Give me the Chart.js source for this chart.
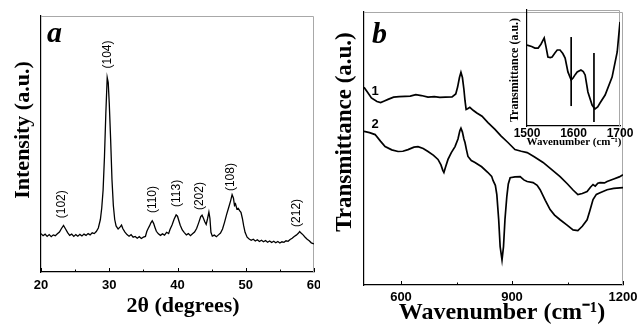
<!DOCTYPE html>
<html>
<head>
<meta charset="utf-8">
<script src="https://cdn.jsdelivr.net/npm/chart.js@4.4.1/dist/chart.umd.min.js"></script>
<style>
	body { margin: 0; background: #fff; }
	#wrap { position: relative; width: 639px; height: 325px; overflow: hidden; }
	canvas { position: absolute; }
</style>
</head>
<body>
<div id="wrap">
	<canvas id="xrd" width="320" height="325" style="left:0;top:0"></canvas>
	<canvas id="ftir" width="319" height="325" style="left:320px;top:0"></canvas>
	<canvas id="inset" width="139" height="155" style="left:500px;top:0"></canvas>
</div>
<script>
// panel a - XRD pattern
var xrd_angle = [20.0, 20.3, 20.6, 20.9, 21.2, 21.5, 21.8, 22.1, 22.4, 22.7, 23.0, 23.3, 23.6, 23.9, 24.2, 24.5, 24.8, 25.1, 25.4, 25.7,
	26.0, 26.3, 26.6, 26.9, 27.2, 27.5, 27.8, 28.1, 28.4, 28.7, 28.9, 29.1, 29.3, 29.5, 29.7, 29.85, 30.0, 30.2, 30.4, 30.6,
	30.8, 31.0, 31.3, 31.6, 31.8, 32.0, 32.3, 32.6, 32.9, 33.2, 33.5, 33.8, 34.1, 34.4, 34.7, 35.0, 35.3, 35.5, 35.7, 35.9,
	36.1, 36.3, 36.5, 36.7, 36.9, 37.2, 37.5, 37.8, 38.1, 38.4, 38.7, 38.9, 39.2, 39.5, 39.8, 40.0, 40.2, 40.4, 40.7, 41.0,
	41.3, 41.6, 41.9, 42.2, 42.5, 42.8, 43.1, 43.4, 43.6, 43.8, 44.0, 44.2, 44.4, 44.6, 44.75, 44.9, 45.1, 45.4, 45.7, 46.0,
	46.3, 46.6, 46.9, 47.2, 47.5, 47.8, 48.0, 48.2, 48.35, 48.5, 48.7, 48.9, 49.1, 49.3, 49.5, 49.7, 49.9, 50.2, 50.5, 50.8,
	51.1, 51.4, 51.7, 52.0, 52.3, 52.6, 52.9, 53.2, 53.5, 53.8, 54.1, 54.4, 54.7, 55.0, 55.3, 55.6, 55.9, 56.2, 56.5, 56.8,
	57.1, 57.4, 57.7, 57.9, 58.1, 58.4, 58.7, 59.0, 59.3, 59.6, 60.0];
var xrd_counts = [15.0, 14.2, 14.8, 13.9, 14.6, 13.8, 14.5, 14.2, 14.9, 15.6, 17.0, 18.2, 16.8, 15.4, 14.3, 14.8, 13.9, 14.6, 14.0, 14.7,
	14.1, 14.8, 14.3, 15.0, 14.5, 15.3, 15.0, 15.8, 17.2, 20.5, 25.0, 32.0, 45.0, 62.0, 76.0, 74.0, 66.0, 52.0, 36.0, 26.0,
	20.5, 18.0, 16.8, 17.6, 18.3, 16.9, 15.6, 14.6, 14.0, 14.6, 13.6, 13.9, 13.2, 13.8, 13.1, 13.6, 13.9, 15.8, 17.0, 18.0,
	19.2, 20.0, 19.0, 17.4, 15.9, 14.9, 14.3, 14.9, 14.4, 15.5, 15.0, 16.6, 18.4, 20.6, 22.3, 21.8, 20.0, 18.3, 16.4, 15.4,
	14.5, 15.0, 14.2, 14.9, 15.6, 17.0, 19.2, 21.6, 22.2, 21.0, 19.6, 18.6, 20.8, 23.4, 21.0, 15.5, 14.0, 14.4, 13.8, 14.5,
	15.2, 16.8, 19.5, 22.5, 25.2, 28.0, 30.2, 28.8, 26.0, 26.6, 24.6, 24.9, 24.0, 23.3, 21.0, 18.0, 15.5, 13.6, 12.9, 12.4,
	12.8, 12.1, 12.6, 11.9, 12.4, 11.8, 12.3, 11.6, 12.1, 11.5, 12.0, 11.4, 11.9, 11.3, 11.8, 11.6, 12.2, 12.0, 12.7, 13.2,
	13.9, 14.4, 15.1, 15.8, 15.2, 14.5, 13.6, 12.8, 12.2, 11.4, 11.0];
var hkl_labels = ['(102)', '(104)', '(110)', '(113)', '(202)', '(108)', '(212)'];
var hkl_angle = [23.1, 29.7, 36.3, 39.9, 43.2, 47.8, 57.4];
var hkl_height = [21.0, 79.5, 23.0, 25.4, 24.2, 31.6, 17.6];
var xrd_ticks = [20, 30, 40, 50, 60];
var xrd_minor = [25, 35, 45, 55];

// panel b - FTIR spectra 1 and 2
var ir_wave_1 = [500, 510, 520, 535, 545, 555, 565, 580, 595, 611, 625, 640, 655, 673, 690, 705, 720, 738, 748, 753,
	758, 762, 766, 770, 773, 776, 780, 786, 795, 805, 819, 835, 854, 870, 889, 908, 925, 941, 960, 984,
	1005, 1030, 1050, 1065, 1078, 1090, 1103, 1112, 1119, 1125, 1132, 1138, 1150, 1157, 1175, 1190, 1200];
var ir_trans_1 = [72.4, 70.5, 68.5, 67.2, 66.8, 67.4, 68.0, 68.8, 69.0, 69.1, 69.2, 69.7, 69.4, 68.8, 69.0, 68.7, 68.8, 68.9, 70.0, 72.5,
	76.0, 77.9, 76.0, 71.7, 67.5, 64.3, 64.6, 65.1, 64.0, 63.0, 61.8, 59.5, 57.0, 54.6, 52.2, 49.6, 49.0, 48.5, 47.0, 44.9,
	42.5, 39.7, 37.0, 34.8, 33.1, 33.5, 34.2, 35.8, 36.8, 36.2, 37.3, 37.5, 37.4, 37.9, 38.8, 39.6, 40.4];
var ir_wave_2 = [500, 515, 530, 545, 557, 575, 592, 605, 619, 635, 646, 660, 673, 688, 700, 708, 713, 716, 720, 727,
	736, 746, 754, 759, 762, 766, 770, 773, 777, 781, 790, 800, 818, 835, 845, 849, 855, 859, 864, 868,
	873, 877, 881, 886, 890, 895, 908, 922, 932, 941, 957, 968, 976, 990, 1003, 1015, 1030, 1048, 1065, 1078,
	1090, 1103, 1110, 1119, 1128, 1138, 1157, 1175, 1200];
var ir_trans_2 = [56.3, 55.8, 55.1, 52.6, 50.7, 49.5, 48.9, 49.0, 49.6, 50.5, 50.7, 50.0, 48.9, 47.5, 46.0, 44.0, 42.0, 41.2, 43.0, 46.0,
	48.5, 50.7, 53.5, 56.5, 57.4, 56.0, 53.5, 52.2, 49.5, 47.1, 45.6, 44.9, 43.3, 41.2, 39.8, 38.2, 36.5, 33.1, 24.0, 14.0,
	9.2, 14.0, 24.0, 32.4, 37.0, 39.3, 39.6, 39.7, 38.5, 37.9, 37.5, 36.5, 34.9, 31.0, 27.6, 25.6, 23.9, 22.0, 20.2, 19.9,
	21.5, 23.9, 27.0, 31.3, 33.2, 33.8, 34.9, 35.4, 35.7];
var ir_ticks = [600, 900, 1200];
var ir_minor = [750, 1050];

// inset - 1500-1700 region
var inset_wave = [1500, 1510, 1517, 1524, 1530, 1537, 1541, 1545, 1550, 1554, 1560, 1565, 1571, 1577, 1582, 1588,
	1595, 1599, 1604, 1608, 1616, 1621, 1625, 1631, 1640, 1646, 1652, 1657, 1668, 1683, 1694, 1700];
var inset_trans = [69.8, 68.5, 67.2, 67.2, 70.5, 75.9, 68.0, 59.5, 59.0, 59.5, 63.0, 65.5, 65.5, 62.5, 58.6, 46.6,
	39.7, 41.4, 44.5, 46.6, 48.3, 47.0, 44.0, 29.3, 18.1, 14.7, 16.5, 19.8, 26.7, 42.2, 63.8, 89.7];
var inset_marks = [1595, 1644];
var inset_mark_top = [76.7, 62.9];
var inset_mark_bottom = [17.2, 3.4];
var inset_ticks = [1500, 1600, 1700];

Chart.defaults.font.family = 'Liberation Sans';
Chart.defaults.color = '#000';

function pairs(xs, ys) {
	return xs.map(function (x, i) {
		return { x: x, y: ys[i] };
	});
}

// top and right edges of the frame are faint grey in the original
var frame = {
	id: 'frame',
	beforeDatasetsDraw: function (chart) {
		var a = chart.chartArea, ctx = chart.ctx;
		ctx.save();
		ctx.strokeStyle = '#a8a8a8';
		ctx.lineWidth = 1;
		ctx.beginPath();
		ctx.moveTo(a.left, a.top + 0.5);
		ctx.lineTo(a.right - 0.5, a.top + 0.5);
		ctx.lineTo(a.right - 0.5, a.bottom);
		ctx.stroke();
		ctx.restore();
	}
};

// tick marks point into the plot
var innerTicks = {
	id: 'innerTicks',
	afterDraw: function (chart, args, opts) {
		var x = chart.scales.x, a = chart.chartArea, ctx = chart.ctx;
		ctx.save();
		ctx.strokeStyle = '#000';
		ctx.lineWidth = 1;
		function mark(v, len) {
			var px = Math.round(x.getPixelForValue(v)) + 0.5;
			ctx.beginPath();
			ctx.moveTo(px, a.bottom);
			ctx.lineTo(px, a.bottom - len);
			ctx.stroke();
		}
		(opts.major || []).forEach(function (v) { mark(v, opts.majorLen); });
		(opts.minor || []).forEach(function (v) { mark(v, opts.minorLen); });
		ctx.restore();
	}
};

// free text: either at data values or at canvas pixels
var texts = {
	id: 'texts',
	afterDraw: function (chart, args, opts) {
		var ctx = chart.ctx;
		(opts.items || []).forEach(function (t) {
			var px = t.data ? chart.scales.x.getPixelForValue(t.x) : t.x;
			var py = t.data ? chart.scales.y.getPixelForValue(t.y) : t.y;
			ctx.save();
			ctx.font = t.font;
			ctx.fillStyle = '#000';
			ctx.textAlign = t.align || 'center';
			ctx.textBaseline = t.baseline || 'middle';
			ctx.translate(px, py);
			if (t.rotate) ctx.rotate(t.rotate);
			ctx.fillText(t.text, 0, 0);
			ctx.restore();
		});
	}
};

function axes(o) {
	return {
		x: {
			type: 'linear',
			min: o.xmin,
			max: o.xmax,
			afterBuildTicks: function (scale) {
				scale.ticks = o.ticks.map(function (v) { return { value: v }; });
			},
			afterFit: function (scale) {
				scale.height = o.xHeight;
				scale.paddingLeft = 0;
				scale.paddingRight = 0;
			},
			grid: { display: false, drawTicks: false },
			border: { display: true, color: '#000', width: 1.2 },
			ticks: {
				padding: o.tickPad,
				maxRotation: 0,
				autoSkip: false,
				font: { size: o.tickSize, weight: 'bold' },
				callback: function (v) { return String(v); }
			}
		},
		y: {
			min: 0,
			max: 100,
			afterFit: function (scale) {
				scale.width = o.yWidth;
			},
			grid: { display: false, drawTicks: false },
			border: { display: true, color: '#000', width: 1.2 },
			ticks: { display: false }
		}
	};
}

function line(points, width) {
	return {
		data: points,
		borderColor: '#000',
		borderWidth: width,
		pointRadius: 0,
		tension: 0,
		fill: false
	};
}

var hklItems = hkl_labels.map(function (s, i) {
	return { data: true, x: hkl_angle[i], y: hkl_height[i], text: s, font: '12px Liberation Sans', rotate: -Math.PI / 2, align: 'left' };
});

new Chart(document.getElementById('xrd'), {
	type: 'line',
	data: { datasets: [line(pairs(xrd_angle, xrd_counts), 1.3)] },
	options: {
		responsive: false,
		animation: false,
		devicePixelRatio: 1,
		layout: { padding: { top: 16, right: 6, left: 0, bottom: 0 } },
		scales: axes({ xmin: 20, xmax: 60, ticks: xrd_ticks, xHeight: 53, tickPad: 6, tickSize: 13, yWidth: 41 }),
		plugins: {
			legend: { display: false },
			tooltip: { enabled: false },
			innerTicks: { major: xrd_ticks, minor: xrd_minor, majorLen: 4, minorLen: 2.5 },
			texts: {
				items: [
					{ x: 23, y: 130, text: 'Intensity (a.u.)', font: 'bold 22px "Liberation Serif"', rotate: -Math.PI / 2 },
					{ x: 183, y: 306, text: '2\u03b8 (degrees)', font: 'bold 22px "Liberation Serif"' },
					{ x: 47, y: 42, text: 'a', font: 'bold italic 30px "Liberation Serif"', align: 'left', baseline: 'alphabetic' }
				].concat(hklItems)
			}
		}
	},
	plugins: [frame, innerTicks, texts]
});

new Chart(document.getElementById('ftir'), {
	type: 'line',
	data: {
		datasets: [
			line(pairs(ir_wave_1, ir_trans_1), 1.7),
			line(pairs(ir_wave_2, ir_trans_2), 1.7)
		]
	},
	options: {
		responsive: false,
		animation: false,
		devicePixelRatio: 1,
		layout: { padding: { top: 12, right: 16, left: 0, bottom: 0 } },
		scales: axes({ xmin: 500, xmax: 1200, ticks: ir_ticks, xHeight: 40, tickPad: 5, tickSize: 13, yWidth: 44 }),
		plugins: {
			legend: { display: false },
			tooltip: { enabled: false },
			innerTicks: { major: ir_ticks, minor: ir_minor, majorLen: 4, minorLen: 2.5 },
			texts: {
				items: [
					{ x: 25, y: 132, text: 'Transmittance (a.u.)', font: 'bold 23px "Liberation Serif"', rotate: -Math.PI / 2 },
					{ x: 182, y: 313, text: 'Wavenumber (cm\u207b\u00b9)', font: 'bold 24px "Liberation Serif"' },
					{ x: 52, y: 43, text: 'b', font: 'bold italic 30px "Liberation Serif"', align: 'left', baseline: 'alphabetic' },
					{ data: true, x: 530, y: 71, text: '1', font: 'bold 13px Liberation Sans' },
					{ data: true, x: 530, y: 59, text: '2', font: 'bold 13px Liberation Sans' }
				]
			}
		}
	},
	plugins: [frame, innerTicks, texts]
});

var insetSets = [line(pairs(inset_wave, inset_trans), 1.7)];
inset_marks.forEach(function (w, i) {
	insetSets.push(line([{ x: w, y: inset_mark_bottom[i] }, { x: w, y: inset_mark_top[i] }], 1.7));
});

new Chart(document.getElementById('inset'), {
	type: 'line',
	data: { datasets: insetSets },
	options: {
		responsive: false,
		animation: false,
		devicePixelRatio: 1,
		layout: { padding: { top: 10, right: 19, left: 0, bottom: 0 } },
		scales: axes({ xmin: 1500, xmax: 1700, ticks: inset_ticks, xHeight: 29, tickPad: 0, tickSize: 12, yWidth: 27 }),
		plugins: {
			legend: { display: false },
			tooltip: { enabled: false },
			texts: {
				items: [
					{ x: 15, y: 70, text: 'Transmittance (a.u.)', font: 'bold 12px "Liberation Serif"', rotate: -Math.PI / 2 },
					{ x: 74, y: 142, text: 'Wavenumber (cm\u207b\u00b9)', font: 'bold 11px "Liberation Serif"' }
				]
			}
		}
	},
	plugins: [frame, texts]
});
</script>
</body>
</html>
